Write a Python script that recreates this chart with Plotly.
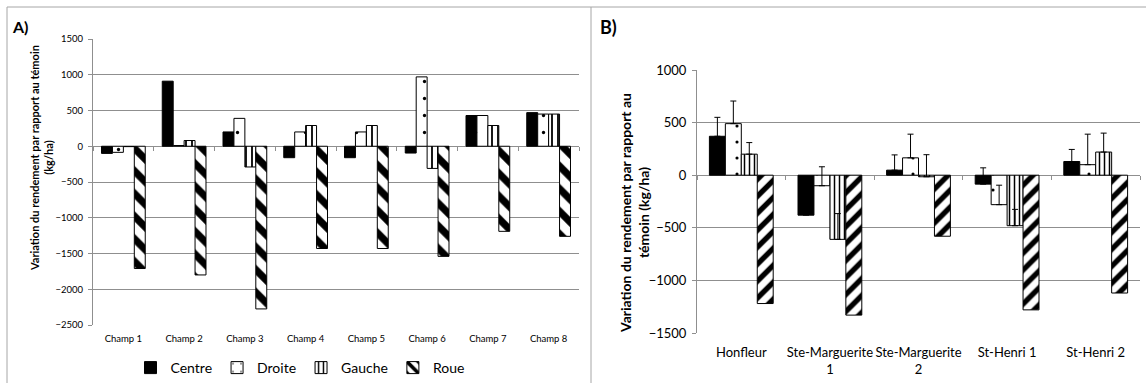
import plotly.graph_objects as go

W, H = 1146, 383

# ---------------- data ----------------
series = ["Centre", "Droite", "Gauche", "Roue"]

champs = ["Champ 1", "Champ 2", "Champ 3", "Champ 4", "Champ 5", "Champ 6", "Champ 7", "Champ 8"]
a_centre = [-100, 910, 200, -160, -160, -95, 430, 470]
a_droite = [-85, 10, 390, 200, 200, 970, 430, 450]
a_gauche = [-5, 80, -290, 290, 290, -310, 290, 450]
a_roue = [-1710, -1800, -2275, -1430, -1430, -1540, -1190, -1260]

sites = ["Honfleur", "Ste-Marguerite<br>1", "Ste-Marguerite<br>2", "St-Henri 1", "St-Henri 2"]
b_centre = [370, -380, 48, -85, 130]
b_droite = [490, -100, 165, -280, 100]
b_gauche = [200, -610, -15, -480, 220]
b_roue = [-1220, -1330, -580, -1280, -1120]
b_centre_err = [180, 150, 145, 155, 115]
b_droite_err = [215, 180, 225, 185, 290]
b_gauche_err = [110, 245, 210, 155, 180]

a_yticks = [1500, 1000, 500, 0, -500, -1000, -1500, -2000, -2500]
b_yticks = [1000, 500, 0, -500, -1000, -1500]
a_range = [-2500, 1500]
b_range = [-1500, 1000]

# ---------------- layout helpers ----------------
def px(x):
    return x / W

def py(y):
    return 1 - y / H

FONT = "Lato"
GRID = "#8f8f8f"

a_dom_x = [px(93), px(579)]
a_dom_y = [py(325), py(39)]
b_dom_x = [px(697), px(1140)]
b_dom_y = [py(333), py(70)]

def styles(panel):
    if panel == "A":
        gsize, rsize, dsize = 6, 16, 17
        rshape = "\\"
    else:
        gsize, rsize, dsize = 5, 12, 16
        rshape = "/"
    return [
        dict(color="black", line=dict(color="black", width=1)),
        dict(color="white", line=dict(color="black", width=1),
             pattern=dict(shape=".", size=dsize, solidity=0.03, fgcolor="black", bgcolor="white", fillmode="replace")),
        dict(color="white", line=dict(color="black", width=1),
             pattern=dict(shape="|", size=gsize, solidity=0.3, fgcolor="black", bgcolor="white", fillmode="replace")),
        dict(color="white", line=dict(color="black", width=1),
             pattern=dict(shape=rshape, size=rsize, solidity=0.45, fgcolor="black", bgcolor="white", fillmode="replace")),
    ]

fig = go.Figure()

a_vals = [a_centre, a_droite, a_gauche, a_roue]
sa = styles("A")
for name, vals, mk in zip(series, a_vals, sa):
    fig.add_trace(go.Bar(x=champs, y=vals, name=name, marker=mk,
                         xaxis="x", yaxis="y", showlegend=True))

b_vals = [b_centre, b_droite, b_gauche, b_roue]
b_errs = [b_centre_err, b_droite_err, b_gauche_err, None]
sb = styles("B")
for name, vals, err, mk in zip(series, b_vals, b_errs, sb):
    eb = None
    if err is not None:
        eb = dict(type="data", array=err, arrayminus=[0] * len(err), symmetric=False,
                  color="black", thickness=1, width=3)
    fig.add_trace(go.Bar(x=sites, y=vals, name=name, marker=mk, error_y=eb,
                         xaxis="x2", yaxis="y2", showlegend=False))

# overlay axes for tick marks on the zero line
def zero_pos(dom, rng):
    return dom[0] + (0 - rng[0]) / (rng[1] - rng[0]) * (dom[1] - dom[0])

n_a = len(champs)
n_b = len(sites)
fig.add_trace(go.Scatter(x=[-0.5, n_a - 0.5], y=[0, 0], mode="lines", line=dict(width=0),
                         xaxis="x3", yaxis="y", showlegend=False, hoverinfo="skip"))
fig.add_trace(go.Scatter(x=[-0.5, n_b - 0.5], y=[0, 0], mode="lines", line=dict(width=0),
                         xaxis="x4", yaxis="y2", showlegend=False, hoverinfo="skip"))

fig.update_layout(
    width=W, height=H,
    margin=dict(l=0, r=0, t=0, b=0, autoexpand=False),
    paper_bgcolor="white", plot_bgcolor="white",
    font=dict(family=FONT, color="black"),
    barmode="group", bargap=0.28, bargroupgap=0,
    xaxis=dict(domain=a_dom_x, anchor="y", type="category", showline=False, ticks="",
               tickfont=dict(size=9.5), showgrid=False, ticklabelstandoff=6),
    yaxis=dict(domain=a_dom_y, anchor="x", range=a_range, tickvals=a_yticks,
               showgrid=True, gridcolor=GRID, gridwidth=1, zeroline=True, zerolinecolor=GRID,
               zerolinewidth=1, showline=True, linecolor=GRID, ticks="outside", ticklen=4,
               tickcolor=GRID, tickfont=dict(size=9.5), ticklabelstandoff=3),
    xaxis2=dict(domain=b_dom_x, anchor="y2", type="category", showline=False, ticks="",
                tickfont=dict(size=13), showgrid=False, ticklabelstandoff=10),
    yaxis2=dict(domain=b_dom_y, anchor="x2", range=b_range, tickvals=b_yticks,
                showgrid=True, gridcolor=GRID, gridwidth=1, zeroline=True, zerolinecolor=GRID,
                zerolinewidth=1, showline=True, linecolor=GRID, ticks="outside", ticklen=4,
                tickcolor=GRID, tickfont=dict(size=13), ticklabelstandoff=3),
    xaxis3=dict(domain=a_dom_x, overlaying="x", anchor="free", position=zero_pos(a_dom_y, a_range),
                range=[-0.5, n_a - 0.5], tickvals=[i - 0.5 for i in range(n_a + 1)],
                showticklabels=False, ticks="outside", ticklen=4, tickcolor=GRID,
                showgrid=False, zeroline=False, showline=False),
    xaxis4=dict(domain=b_dom_x, overlaying="x2", anchor="free", position=zero_pos(b_dom_y, b_range),
                range=[-0.5, n_b - 0.5], tickvals=[i - 0.5 for i in range(n_b + 1)],
                showticklabels=False, ticks="outside", ticklen=4, tickcolor=GRID,
                showgrid=False, zeroline=False, showline=False),
    legend=dict(orientation="h", x=px(300), y=py(368), xanchor="center", yanchor="middle",
                font=dict(size=14), traceorder="normal", itemwidth=30, bgcolor="rgba(0,0,0,0)"),
    annotations=[
        dict(text="<b>A)</b>", x=px(10), y=py(26), xref="paper", yref="paper", xanchor="left",
             yanchor="middle", showarrow=False, font=dict(size=16)),
        dict(text="<b>B)</b>", x=px(598), y=py(27), xref="paper", yref="paper", xanchor="left",
             yanchor="middle", showarrow=False, font=dict(size=18)),
        dict(text="<b>Variation du rendement par rapport au témoin<br>(kg/ha)</b>", x=px(41), y=py(158),
             xref="paper", yref="paper", xanchor="center", yanchor="middle", textangle=-90,
             showarrow=False, font=dict(size=11)),
        dict(text="<b>Variation du rendement par rapport au<br>témoin (kg/ha)</b>", x=px(634), y=py(213),
             xref="paper", yref="paper", xanchor="center", yanchor="middle", textangle=-90,
             showarrow=False, font=dict(size=14)),
    ],
    shapes=[
        dict(type="line", xref="paper", yref="paper", x0=px(7), x1=px(591), y0=py(7), y1=py(7),
             line=dict(color="#a6a6a6", width=1)),
        dict(type="line", xref="paper", yref="paper", x0=px(7), x1=px(7), y0=py(7), y1=0,
             line=dict(color="#a6a6a6", width=1)),
        dict(type="line", xref="paper", yref="paper", x0=px(591), x1=px(591), y0=py(7), y1=0,
             line=dict(color="#a6a6a6", width=1)),
        dict(type="line", xref="paper", yref="paper", x0=px(591), x1=1, y0=py(7), y1=py(7),
             line=dict(color="#a6a6a6", width=1)),
    ],
)

fig.write_html("out.html")
